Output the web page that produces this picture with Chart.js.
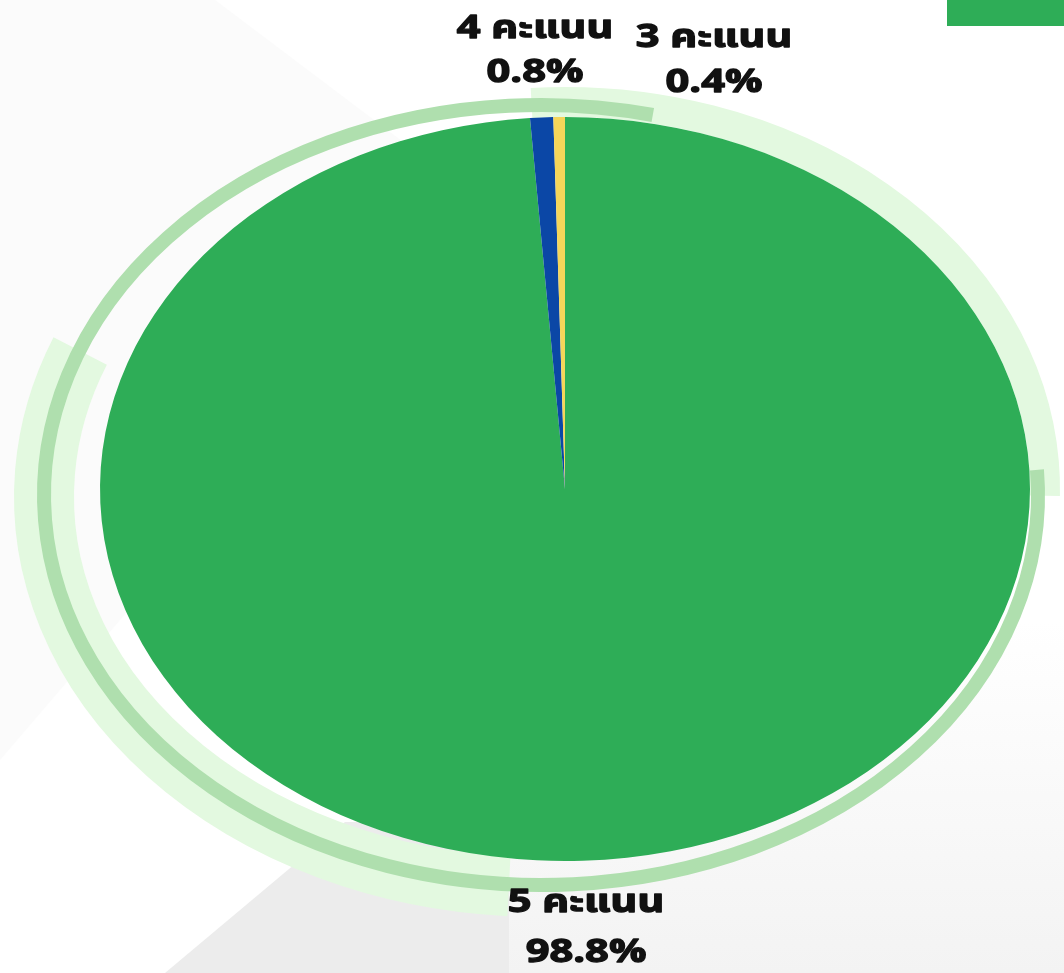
<!DOCTYPE html>
<html>
<head>
<meta charset="utf-8">
<script src="https://cdn.jsdelivr.net/npm/chart.js@4.4.1/dist/chart.umd.min.js"></script>
<style>
    html, body { margin: 0; padding: 0; background: #ffffff; }
    #wrap { width: 1064px; height: 973px; position: relative; overflow: hidden; }
</style>
</head>
<body>
<div id="wrap"><canvas id="pieChart" width="1064" height="973"></canvas></div>
<script>
// Data
const categories = ['5 คะแนน', '4 คะแนน', '3 คะแนน'];
const shares = [98.8, 0.8, 0.4];
const sliceColors = ['#2EAD57', '#0B47A6', '#F5D65A'];

// the pie in the picture is squashed into an ellipse
const stretchX = 1.25;
// label font in the picture is much wider than what we have
const textStretch = 1.3;

// where each label sits, relative to the pie centre and radius
const labelSpots = [
    { dx: 21, side: 1, gap: 45, lineGap: 50 },
    { dx: -30, side: -1, gap: 85, lineGap: 44 },
    { dx: 149, side: -1, gap: 76, lineGap: 45 }
];

const rad = d => d * Math.PI / 180;

function pieGeometry(chart) {
    const arc = chart.getDatasetMeta(0).data[0];
    return { cx: arc.x, cy: arc.y, ry: arc.outerRadius, rx: arc.outerRadius * stretchX };
}

// background shapes + decorative rings
const decorPlugin = {
    id: 'decor',
    beforeDraw(chart) {
        const ctx = chart.ctx;
        const w = chart.width, h = chart.height;
        ctx.save();
        ctx.fillStyle = '#ffffff';
        ctx.fillRect(0, 0, w, h);
        // faint grey wedge top-left
        ctx.fillStyle = '#fbfbfb';
        ctx.beginPath();
        ctx.moveTo(0, 0);
        ctx.lineTo(215, 0);
        ctx.lineTo(480, 200);
        ctx.lineTo(0, 760);
        ctx.closePath();
        ctx.fill();
        // soft grey areas at the bottom
        const grad = ctx.createLinearGradient(0, 620, 0, h);
        grad.addColorStop(0, '#ffffff');
        grad.addColorStop(1, '#f3f3f3');
        ctx.fillStyle = grad;
        ctx.beginPath();
        ctx.moveTo(509, 830);
        ctx.lineTo(w, 560);
        ctx.lineTo(w, h);
        ctx.lineTo(509, h);
        ctx.closePath();
        ctx.fill();
        ctx.fillStyle = '#ececec';
        ctx.beginPath();
        ctx.moveTo(165, h);
        ctx.lineTo(345, 822);
        ctx.lineTo(509, 822);
        ctx.lineTo(509, h);
        ctx.closePath();
        ctx.fill();
        // green tab in the corner
        ctx.fillStyle = '#2EAD57';
        ctx.fillRect(947, 0, w - 947, 26);
        ctx.restore();
    },
    beforeDatasetsDraw(chart) {
        const ctx = chart.ctx;
        const g = pieGeometry(chart);
        ctx.save();
        ctx.lineCap = 'butt';
        // light band hugging the top-right
        ctx.strokeStyle = '#E3F9E0';
        ctx.lineWidth = 30;
        ctx.beginPath();
        ctx.ellipse(g.cx, g.cy, g.rx + 15, g.ry + 15, 0, rad(-94), rad(1));
        ctx.stroke();
        // wide light band on the left
        ctx.lineWidth = 60;
        ctx.beginPath();
        ctx.ellipse(g.cx - 24, g.cy + 8, g.rx + 32, g.ry + 18, 0, rad(93.7), rad(202));
        ctx.stroke();
        // medium green ring
        ctx.strokeStyle = '#AFDFAE';
        ctx.lineWidth = 14;
        ctx.beginPath();
        ctx.ellipse(g.cx - 24, g.cy + 6, g.rx + 32, g.ry + 18, 0, rad(-3.7), rad(283));
        ctx.stroke();
        ctx.restore();

        // squash the pie into an ellipse
        ctx.save();
        ctx.translate(g.cx, g.cy);
        ctx.scale(stretchX, 1);
        ctx.translate(-g.cx, -g.cy);
    },
    afterDatasetsDraw(chart) {
        chart.ctx.restore();
    },
    afterDraw(chart) {
        const ctx = chart.ctx;
        const g = pieGeometry(chart);
        const total = shares.reduce((a, b) => a + b, 0);
        const put = (text, x, y) => {
            ctx.save();
            ctx.translate(x, y);
            ctx.scale(textStretch, 1);
            ctx.fillText(text, 0, 0);
            ctx.strokeText(text, 0, 0);
            ctx.restore();
        };
        ctx.save();
        ctx.fillStyle = '#111111';
        ctx.strokeStyle = '#111111';
        ctx.lineWidth = 1.3;
        ctx.lineJoin = 'round';
        ctx.textAlign = 'center';
        ctx.textBaseline = 'middle';
        ctx.font = 'bold 32px "Noto Sans Thai", "Noto Sans", "Open Sans", sans-serif';
        categories.forEach((name, i) => {
            const s = labelSpots[i];
            const x = g.cx + s.dx;
            const y = g.cy + s.side * (g.ry + s.gap);
            const pct = (shares[i] / total * 100).toFixed(1) + '%';
            put(name, x, y);
            put(pct, x, y + s.lineGap);
        });
        ctx.restore();
    }
};

const ctx = document.getElementById('pieChart').getContext('2d');
new Chart(ctx, {
    type: 'pie',
    data: {
        labels: categories,
        datasets: [{
            data: shares,
            backgroundColor: sliceColors,
            borderWidth: 0,
            clip: false
        }]
    },
    options: {
        responsive: false,
        animation: false,
        layout: { padding: { left: 193, right: 127, top: 117, bottom: 112 } },
        plugins: {
            legend: { display: false },
            tooltip: { enabled: false }
        }
    },
    plugins: [decorPlugin]
});
</script>
</body>
</html>
